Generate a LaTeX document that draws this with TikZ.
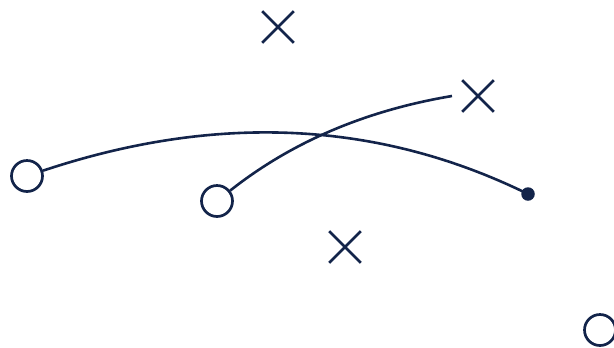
\documentclass[tikz,border=0pt]{standalone}
\usetikzlibrary{shapes.misc}
\definecolor{navy}{HTML}{13244A}
\begin{document}
\begin{tikzpicture}[x=1bp,y=-1bp,
  ring/.style={circle, draw=navy, line width=2.7bp, minimum size=31bp, inner sep=0pt},
  dotnode/.style={circle, fill=navy, minimum size=13.5bp, inner sep=0pt},
  xmark/.style={cross out, draw=navy, line width=2.7bp, minimum size=29bp, inner sep=0pt},
  link/.style={draw=navy, line width=2.6bp}]
\useasboundingbox (0,0) rectangle (614,347);
\node[ring] (c1) at (27,176) {};
\node[ring] (c2) at (217,201) {};
\node[ring] (c3) at (600,330) {};
\node[dotnode] (d) at (528,194) {};
\node[xmark] (x1) at (278,27) {};
\node[xmark] (x2) at (478,96) {};
\node[xmark] (x3) at (345,247) {};
\coordinate (e2) at (452,96);
\draw[link] (c1) .. controls (217,112.7) and (378.7,120.7) .. (d.center);
\draw[link] (c2) .. controls (293.7,140.3) and (368.7,110) .. (e2);
\end{tikzpicture}
\end{document}
